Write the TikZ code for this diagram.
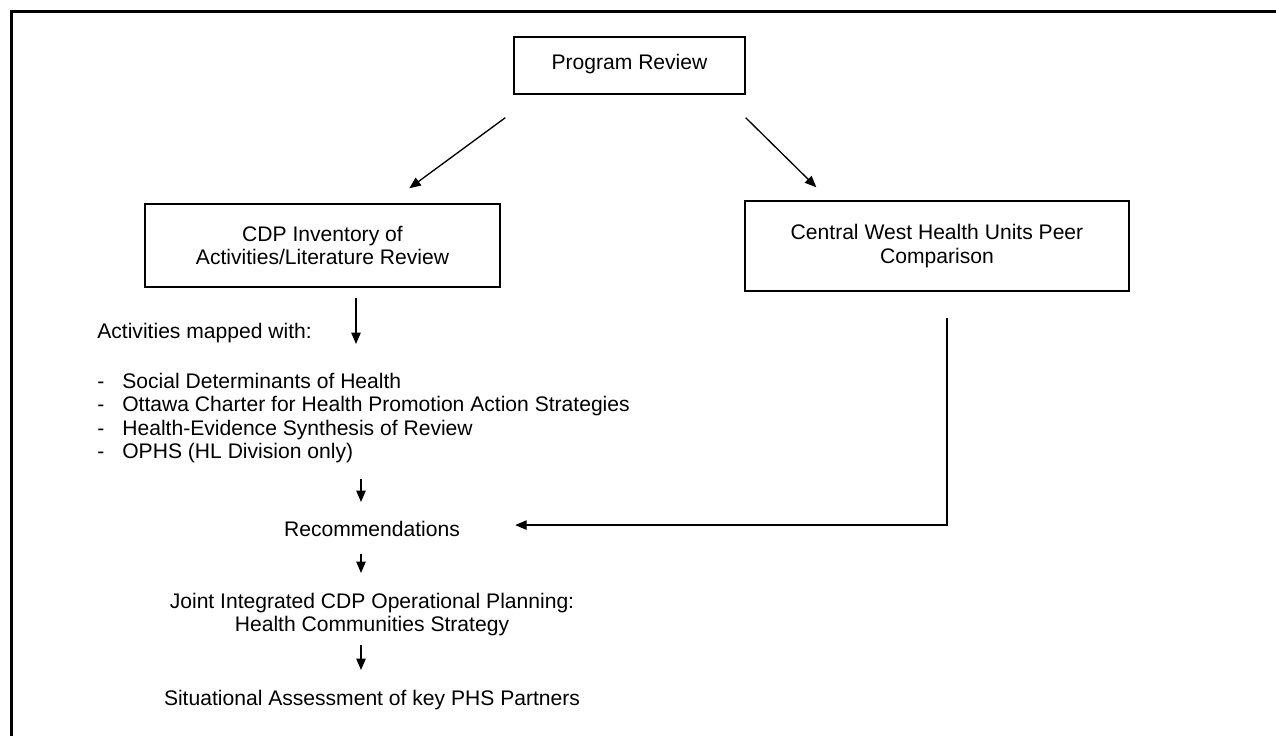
\documentclass[tikz,border=0pt]{standalone}
\usepackage{fontspec}
\setmainfont{Liberation Sans}
\usetikzlibrary{arrows.meta}

\begin{document}
\begin{tikzpicture}[x=0.02cm,y=-0.02cm,
    font=\fontsize{12pt}{13.2pt}\selectfont,
    box/.style={draw,line width=0.8pt,align=center,inner sep=0pt},
    txt/.style={inner sep=0pt},
    arr/.style={-{Triangle[length=0.23cm,width=0.19cm]},line width=0.75pt}]
  \useasboundingbox (0,0) rectangle (1276,736);
  \draw[line width=1.5pt] (11.5,11.5) rectangle (1300,760);

  \node[box,minimum width=4.62cm,minimum height=1.14cm,text depth=0.16cm] (review) at (629.5,65.5) {Program Review};
  \node[box,minimum width=7.1cm,minimum height=1.66cm] (inventory) at (322.5,245.5) {CDP Inventory of\\Activities/Literature Review};
  \node[box,minimum width=7.68cm,minimum height=1.8cm] (peer) at (937,246) {Central West Health Units Peer\\Comparison};

  \node[txt,anchor=north west] (mapped) at (97,323) {Activities mapped with:};
  \node[txt,anchor=north west,align=left] (list) at (97,373) {\makebox[0.5cm][l]{-}Social Determinants of Health\\
    \makebox[0.5cm][l]{-}Ottawa Charter for Health Promotion Action Strategies\\
    \makebox[0.5cm][l]{-}Health-Evidence Synthesis of Review\\
    \makebox[0.5cm][l]{-}OPHS (HL Division only)};
  \node[txt,anchor=north] (recs) at (372,521) {Recommendations};
  \node[txt,anchor=north,align=center] (joint) at (372,593) {Joint Integrated CDP Operational Planning:\\Health Communities Strategy};
  \node[txt,anchor=north] (partners) at (372,690) {Situational Assessment of key PHS Partners};

  \coordinate (stemA) at (356,0);
  \coordinate (stemB) at (361,0);

  \draw[arr] ([xshift=-0.16cm,yshift=-0.46cm]review.south west) -- ([xshift=5.3cm,yshift=0.3cm]inventory.north west);
  \draw[arr] ([yshift=-0.46cm]review.south east) -- ([xshift=1.44cm,yshift=0.26cm]peer.north west);
  \draw[arr,shorten <=0.2cm,shorten >=0.58cm] (inventory.south -| stemA) -- (list.north -| stemA);
  \draw[arr,shorten <=0.33cm,shorten >=0.38cm] (list.south -| stemB) -- (recs.north -| stemB);
  \draw[arr,shorten <=0.34cm,shorten >=0.4cm] (recs.south -| stemB) -- (joint.north -| stemB);
  \draw[arr,shorten <=0.17cm,shorten >=0.4cm] (joint.south -| stemB) -- (partners.north -| stemB);
  \draw[arr,shorten >=1.1cm] ([xshift=0.2cm,yshift=-0.52cm]peer.south) |- ([yshift=0.08cm]recs.east);
\end{tikzpicture}
\end{document}
